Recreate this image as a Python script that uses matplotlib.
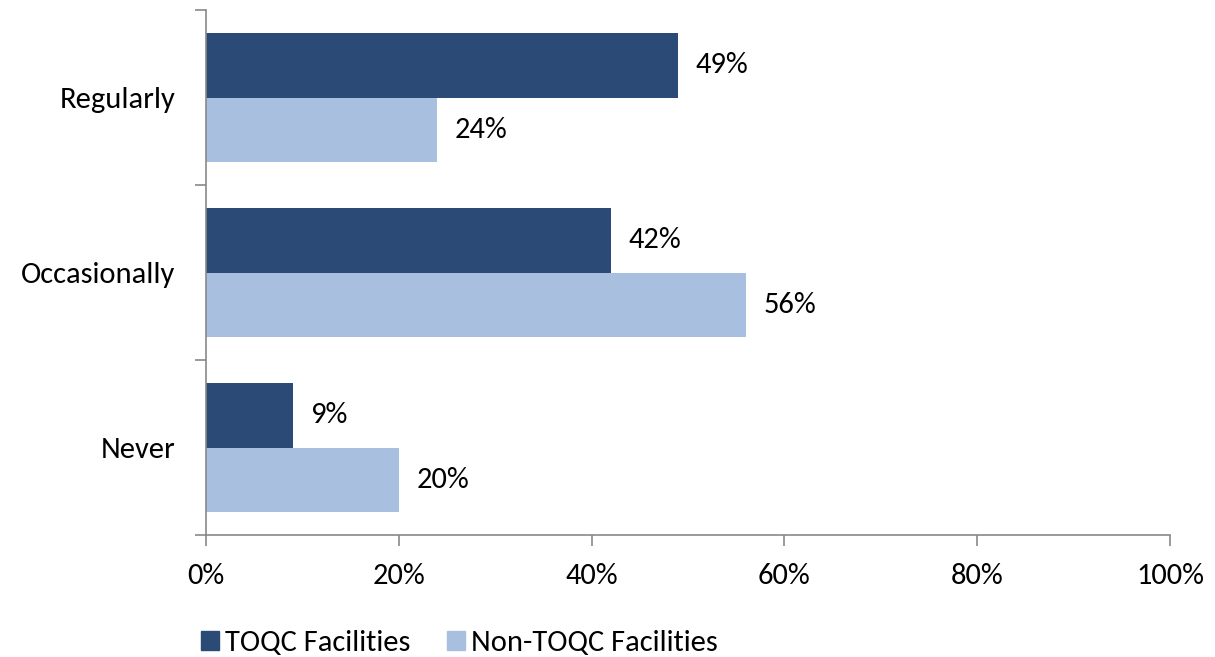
import numpy as np
import matplotlib
matplotlib.use("Agg")
import matplotlib.pyplot as plt
from matplotlib.patches import Patch

plt.rcParams["font.family"] = ["Carlito", "Lato", "DejaVu Sans"]

categories = ["Regularly", "Occasionally", "Never"]
toqc = [49, 42, 9]
non_toqc = [24, 56, 20]
series_names = ["TOQC Facilities", "Non-TOQC Facilities"]
xticks = [0, 20, 40, 60, 80, 100]

DARK = "#2c4a76"
LIGHT = "#a9bfe0"
AXIS = "#898989"
FS = 22

fig = plt.figure(figsize=(12.15, 6.57), dpi=100, facecolor="white")
ax = fig.add_axes([206 / 1215, 1 - 535 / 657, 964 / 1215, 525 / 657])

n = len(categories)
pos = np.arange(n)[::-1].astype(float)   # Regularly on top
h = 0.366
ax.barh(pos + h / 2, toqc, height=h, color=DARK, label=series_names[0])
ax.barh(pos - h / 2, non_toqc, height=h, color=LIGHT, label=series_names[1])

for y, v in zip(pos + h / 2, toqc):
    ax.text(v + 1.8, y, f"{v}%", va="center", ha="left", fontsize=FS)
for y, v in zip(pos - h / 2, non_toqc):
    ax.text(v + 1.8, y, f"{v}%", va="center", ha="left", fontsize=FS)

ax.set_xlim(0, 100)
ax.set_ylim(-0.5, n - 0.5)
ax.set_xticks(xticks)
ax.set_xticklabels([f"{t}%" for t in xticks], fontsize=FS)
ax.set_yticks(pos)
ax.set_yticklabels(categories, fontsize=FS)
ax.set_yticks(np.arange(n + 1) - 0.5, minor=True)
ax.tick_params(axis="y", which="major", length=0, pad=22)
ax.tick_params(axis="y", which="minor", length=8, color=AXIS, width=1.2)
ax.tick_params(axis="x", which="major", length=8, color=AXIS, width=1.2, pad=12)

for s in ["top", "right"]:
    ax.spines[s].set_visible(False)
for s in ["left", "bottom"]:
    ax.spines[s].set_color(AXIS)
    ax.spines[s].set_linewidth(1.2)

handles = [Patch(color=DARK, label=series_names[0]),
           Patch(color=LIGHT, label=series_names[1])]
fig.legend(handles=handles, loc="lower left", bbox_to_anchor=(173 / 1215, -0.041),
           ncol=2, frameon=False, fontsize=FS, handlelength=0.6, handleheight=0.6,
           handletextpad=0.2, columnspacing=1.2)

fig.savefig("out.png", dpi=100, facecolor="white")
